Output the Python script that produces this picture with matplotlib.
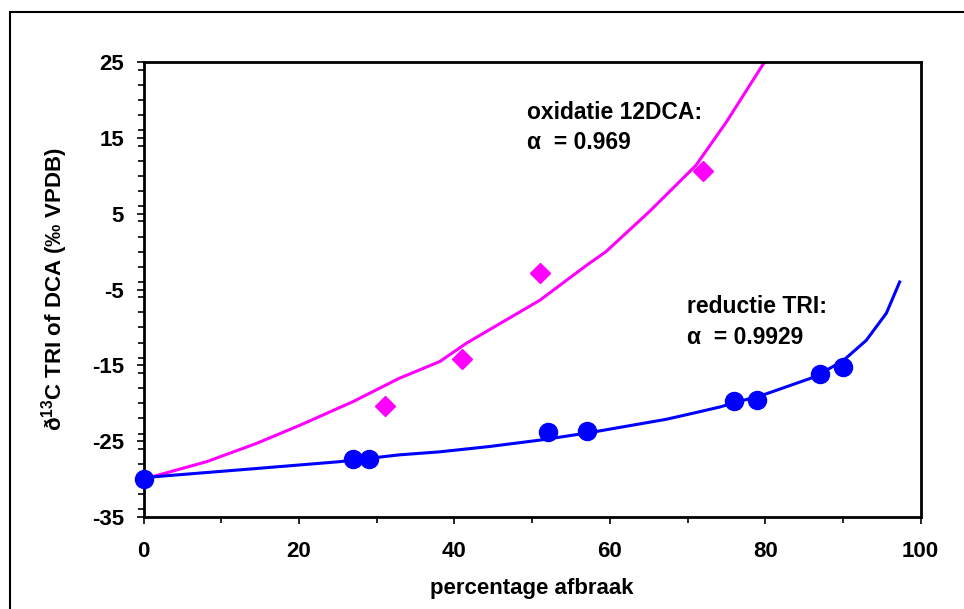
import matplotlib
matplotlib.use("Agg")
import matplotlib.pyplot as plt
from matplotlib.patches import Rectangle
from matplotlib.ticker import MultipleLocator

plt.rcParams['font.family'] = ['Liberation Sans', 'DejaVu Sans']
plt.rcParams['mathtext.fontset'] = 'custom'
plt.rcParams['mathtext.rm'] = 'Liberation Sans:bold'
plt.rcParams['mathtext.bf'] = 'Liberation Sans:bold'
plt.rcParams['axes.unicode_minus'] = False

# measured points
tri_x = [0, 27, 29, 52, 57, 76, 79, 87, 90]
tri_y = [-30, -27.3, -27.4, -23.8, -23.7, -19.7, -19.5, -16.2, -15.2]
dca_x = [31, 41, 51, 72]
dca_y = [-20.4, -14.2, -2.8, 10.6]

# fitted curves
tri_fit_x = [0, 14.5, 25.2, 32.9, 38.1, 44.5, 51.4, 57.8, 67.3, 71.6, 74.1, 80, 86.4, 90, 93.0, 95.6, 97.3]
tri_fit_y = [-29.8, -28.6, -27.7, -26.8, -26.4, -25.7, -24.8, -23.8, -22.1, -21.1, -20.5, -18.8, -16.5, -14.4, -11.7, -8.1, -4.0]
dca_fit_x = [0, 8.1, 14.5, 20.1, 26.9, 32.9, 38.1, 41.5, 51.0, 57.0, 59.5, 65.1, 71.1, 75.0, 79.9]
dca_fit_y = [-30, -27.7, -25.3, -22.9, -19.8, -16.7, -14.5, -12.1, -6.4, -1.8, 0.0, 5.3, 11.4, 17.1, 25]

fig = plt.figure(figsize=(9.64, 6.09), dpi=100)
ax = fig.add_axes([0.149, 0.151, 0.806, 0.747])

# outer chart frame
fig.patches.append(Rectangle((10 / 964, -0.1), 1.2, 1.1 - 12 / 609, transform=fig.transFigure,
                             fill=False, edgecolor='black', linewidth=1.5))

ax.plot(dca_fit_x, dca_fit_y, color='#FF00FF', linewidth=2.2, zorder=2)
ax.plot(tri_fit_x, tri_fit_y, color='#0000FF', linewidth=2.2, zorder=2)
ax.plot(dca_x, dca_y, linestyle='none', marker='D', markersize=10, color='#FF00FF', zorder=3)
ax.plot(tri_x, tri_y, linestyle='none', marker='o', markersize=13, color='#0000FF', zorder=4, clip_on=False)

ax.set_xlim(0, 100)
ax.set_ylim(-35, 25)
ax.xaxis.set_major_locator(MultipleLocator(20))
ax.xaxis.set_minor_locator(MultipleLocator(10))
ax.yaxis.set_minor_locator(MultipleLocator(2))
ax.set_yticks([-35, -25, -15, -5, 5, 15, 25])
ax.tick_params(which='both', direction='out', width=1.2, labelsize=16, top=False, right=False)
ax.tick_params(which='major', length=5)
ax.tick_params(which='minor', length=4)
ax.tick_params(axis='x', pad=12)
ax.tick_params(axis='y', pad=9)
for lbl in ax.get_xticklabels() + ax.get_yticklabels():
    lbl.set_fontweight('bold')
for s in ax.spines.values():
    s.set_linewidth(2)

ax.set_xlabel('percentage afbraak', fontsize=16, fontweight='bold', labelpad=12)
ax.set_ylabel('ð$^{13}$C TRI of DCA (‰ VPDB)', fontsize=16, fontweight='bold', labelpad=16)

ax.text(49.3, 18.4, 'oxidatie 12DCA:', fontsize=16.5, fontweight='bold', va='center')
ax.text(49.3, 14.4, 'α  = 0.969', fontsize=16.5, fontweight='bold', va='center')
ax.text(69.9, -7.2, 'reductie TRI:', fontsize=16.5, fontweight='bold', va='center')
ax.text(69.9, -11.3, 'α  = 0.9929', fontsize=16.5, fontweight='bold', va='center')

fig.savefig('out.png', dpi=100)
